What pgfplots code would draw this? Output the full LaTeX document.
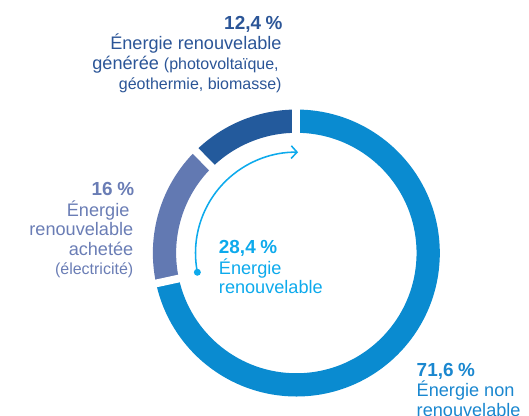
\documentclass[border=0pt]{standalone}
\usepackage{pgfplots}
\pgfplotsset{compat=1.18}
\usepackage{pgfplotstable}
\usetikzlibrary{arrows.meta}
\usepackage{fontspec}
\setmainfont{Liberation Sans}
\definecolor{cA}{HTML}{0A8BD0}
\definecolor{cB}{HTML}{6279B2}
\definecolor{cC}{HTML}{235A9C}
\definecolor{tA}{HTML}{1A87CF}
\definecolor{tB}{HTML}{6A7DB5}
\definecolor{tC}{HTML}{2B5597}
\definecolor{cyanc}{HTML}{0DAAEC}
\pgfplotstableread{
label value
nonrenouvelable 71.6
achetee 16
generee 12.4
}\piedata
\newcommand{\bigt}{\fontsize{18.7}{21}\selectfont}
\newcommand{\bnum}{\fontsize{19.5}{21}\selectfont\bfseries}
\newcommand{\smt}{\fontsize{16.5}{20}\selectfont}
\newcommand{\pc}{\hspace{0.25em}\%}
\begin{document}
\pgfplotstablegetelem{0}{value}\of\piedata \pgfmathsetmacro\va{\pgfplotsretval}
\pgfplotstablegetelem{1}{value}\of\piedata \pgfmathsetmacro\vb{\pgfplotsretval}
\pgfplotstablegetelem{2}{value}\of\piedata \pgfmathsetmacro\vc{\pgfplotsretval}
\pgfmathsetmacro\aA{90-3.6*\va}
\pgfmathsetmacro\aB{\aA-3.6*\vb}
\pgfmathsetmacro\aC{\aB-3.6*\vc}
\begin{tikzpicture}
\begin{axis}[x=1pt, y=1pt, enlargelimits=false,
  xmin=0, xmax=529, ymin=0, ymax=429, hide axis, clip=false]
% ring segments
\draw[cA, line width=24pt] ([shift={(90:136pt)}]axis cs:289,168) arc[start angle=90, end angle=\aA, radius=136pt];
\draw[cB, line width=24pt] ([shift={(\aA:136pt)}]axis cs:289,168) arc[start angle=\aA, end angle=\aB, radius=136pt];
\draw[cC, line width=24pt] ([shift={(\aB:136pt)}]axis cs:289,168) arc[start angle=\aB, end angle=\aC, radius=136pt];
% gaps
\draw[white, line width=8pt] ([shift={(90:118pt)}]axis cs:289,168) -- ([shift={(90:156pt)}]axis cs:289,168);
\draw[white, line width=8pt] ([shift={(\aA:118pt)}]axis cs:289,168) -- ([shift={(\aA:156pt)}]axis cs:289,168);
\draw[white, line width=8pt] ([shift={(\aB:118pt)}]axis cs:289,168) -- ([shift={(\aB:156pt)}]axis cs:289,168);
% arrow
\draw[cyanc, line width=1.6pt, -{Straight Barb[length=6pt,width=13pt,line width=1.6pt]}]
  ([shift={(191:104pt)}]axis cs:289,168) arc[start angle=191, end angle=89, radius=104pt];
\fill[cyanc] ([shift={(191:104pt)}]axis cs:289,168) circle[radius=3.6pt];
% labels 12,4
\node[anchor=base east, inner sep=0pt, text=tC] at (axis cs:275,399) {\bnum 12,4\pc};
\node[anchor=base east, inner sep=0pt, text=tC] at (axis cs:274,378) {\bigt Énergie renouvelable};
\node[anchor=base east, inner sep=0pt, text=tC] at (axis cs:271,357) {\bigt générée {\smt (photovoltaïque,}};
\node[anchor=base east, inner sep=0pt, text=tC] at (axis cs:274,337) {\smt géothermie, biomasse)};
% labels 16
\node[anchor=base east, inner sep=0pt, text=tB] at (axis cs:122,227) {\bnum 16\pc};
\node[anchor=base east, inner sep=0pt, text=tB] at (axis cs:117,206) {\bigt Énergie};
\node[anchor=base east, inner sep=0pt, text=tB] at (axis cs:121,186) {\bigt renouvelable};
\node[anchor=base east, inner sep=0pt, text=tB] at (axis cs:121,165) {\bigt achetée};
\node[anchor=base east, inner sep=0pt, text=tB] at (axis cs:121,146) {\smt (électricité)};
% center
\node[anchor=base west, inner sep=0pt, text=cyanc] at (axis cs:209,167) {\bnum 28,4\pc};
\node[anchor=base west, inner sep=0pt, text=cyanc] at (axis cs:209,146) {\bigt Énergie};
\node[anchor=base west, inner sep=0pt, text=cyanc] at (axis cs:209,126) {\bigt renouvelable};
% 71,6
\node[anchor=base west, inner sep=0pt, text=tA] at (axis cs:413,41) {\bnum 71,6\pc};
\node[anchor=base west, inner sep=0pt, text=tA] at (axis cs:413,20) {\bigt Énergie non};
\node[anchor=base west, inner sep=0pt, text=tA] at (axis cs:413,-1) {\bigt renouvelable};
\end{axis}
\pgfresetboundingbox
\path[use as bounding box] (current axis.south west) rectangle (current axis.north east);
\end{tikzpicture}
\end{document}
